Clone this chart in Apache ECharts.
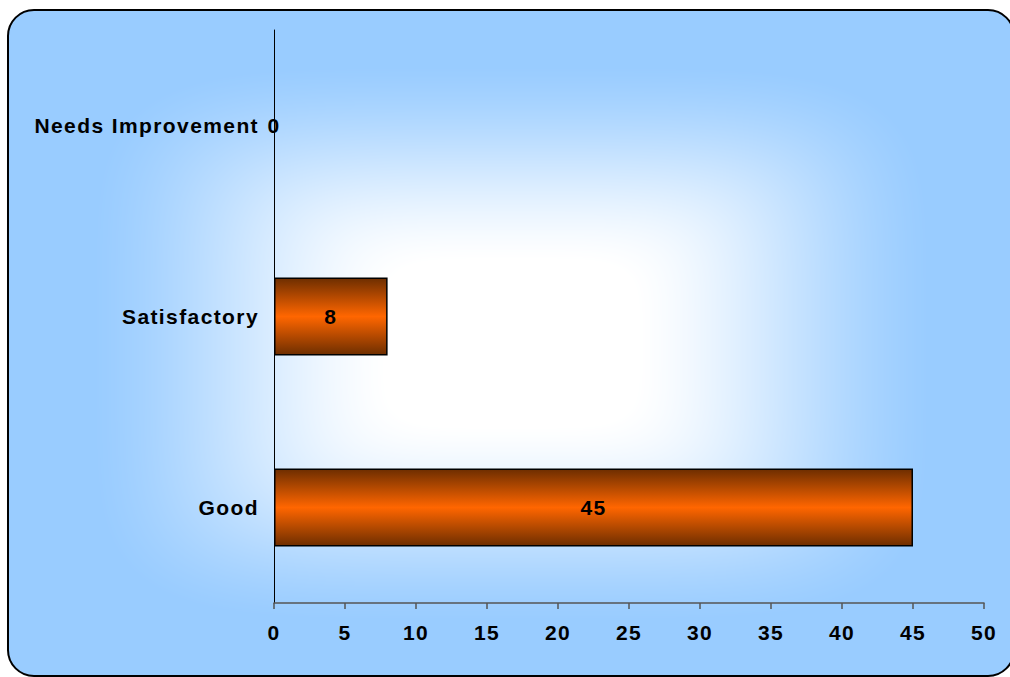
<!DOCTYPE html>
<html>
<head>
<meta charset="utf-8">
<script src="https://cdn.jsdelivr.net/npm/echarts@6/dist/echarts.min.js"></script>
<style>
html,body{margin:0;padding:0;background:#fff;}
#c{width:1010px;height:677px;}
#c svg text{letter-spacing:1.4px;}
</style>
</head>
<body>
<div id="c"></div>
<script>
const categories = ['Good', 'Satisfactory', 'Needs Improvement'];
const values = [45, 8, 0];
const xTicks = {min: 0, max: 50, interval: 5};

const W = 1010, H = 677;
const box = {x: 8, y: 10, w: 1006, h: 666, r: 26};

// Rectangular "from centre" background gradient (white centre, light blue edges)
function makeBackground() {
  const cv = document.createElement('canvas');
  cv.width = W; cv.height = H;
  const ctx = cv.getContext('2d');
  const img = ctx.createImageData(W, H);
  const cx = box.x + box.w / 2, cy = box.y + box.h / 2;
  const hw = box.w / 2, hh = box.h / 2;
  const edge = [153, 204, 255];
  const p = 5;
  for (let y = 0; y < H; y++) {
    for (let x = 0; x < W; x++) {
      const ax = Math.abs(x - cx) / hw, ay = Math.abs(y - cy) / hh;
      const t = Math.pow(Math.pow(ax, p) + Math.pow(ay, p), 1 / p);
      let f = (t - 0.25) / 0.58;
      f = Math.max(0, Math.min(1, f));
      f = f * f * (3 - 2 * f) * 0.5 + f * 0.5;
      const i = (y * W + x) * 4;
      img.data[i] = Math.round(255 + (edge[0] - 255) * f);
      img.data[i + 1] = Math.round(255 + (edge[1] - 255) * f);
      img.data[i + 2] = 255;
      img.data[i + 3] = 255;
    }
  }
  ctx.putImageData(img, 0, 0);
  ctx.globalCompositeOperation = 'destination-in';
  ctx.beginPath();
  ctx.roundRect(box.x, box.y, box.w, box.h, box.r);
  ctx.fill();
  return cv.toDataURL();
}

const chart = echarts.init(document.getElementById('c'), null, {renderer: 'svg'});
const font = '"Liberation Sans", Arial, sans-serif';
const barGradient = {
  type: 'linear', x: 0, y: 0, x2: 0, y2: 1,
  colorStops: [
    {offset: 0, color: '#6e2e00'},
    {offset: 0.5, color: '#ff6600'},
    {offset: 1, color: '#6e2e00'}
  ]
};
chart.setOption({
  backgroundColor: '#ffffff',
  animation: false,
  graphic: [{
    type: 'image',
    z: -20,
    silent: true,
    style: {image: makeBackground(), x: 0, y: 0, width: W, height: H}
  }, {
    type: 'rect',
    z: -10,
    silent: true,
    shape: {x: box.x, y: box.y, width: box.w, height: box.h, r: box.r},
    style: {fill: 'none', stroke: '#000', lineWidth: 2}
  }],
  grid: {left: 274, right: 26, top: 30, bottom: 74, containLabel: false},
  xAxis: {
    type: 'value',
    min: xTicks.min, max: xTicks.max, interval: xTicks.interval,
    axisLine: {show: true, lineStyle: {color: '#555', width: 1.5}},
    axisTick: {show: true, inside: false, length: 6, lineStyle: {color: '#555', width: 1.5}},
    splitLine: {show: false},
    axisLabel: {color: '#000', fontSize: 21, fontWeight: 'bold', fontFamily: font, margin: 19}
  },
  yAxis: {
    type: 'category',
    data: categories,
    axisLine: {show: true, lineStyle: {color: '#000', width: 1}},
    axisTick: {show: false},
    splitLine: {show: false},
    axisLabel: {color: '#000', fontSize: 21, fontWeight: 'bold', fontFamily: font, margin: 15, padding: [0, 0, 6, 0]}
  },
  series: [{
    type: 'bar',
    data: values.map(v => ({value: v, itemStyle: {borderWidth: v === 0 ? 0 : 1.5}})),
    barWidth: 78,
    itemStyle: {
      borderColor: '#000',
      color: barGradient
    },
    label: {
      show: true,
      position: 'inside',
      color: '#000',
      fontSize: 21,
      fontWeight: 'bold',
      fontFamily: font,
      padding: [0, 0, 6, 0]
    }
  }]
});
</script>
</body>
</html>
